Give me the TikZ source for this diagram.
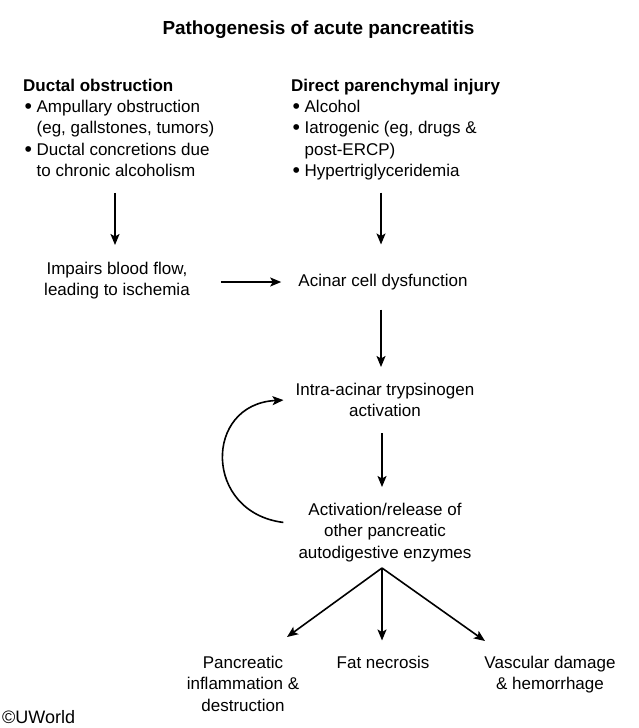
\documentclass[tikz,border=0pt]{standalone}
\usepackage{fontspec}
\setmainfont{Liberation Sans}
\usetikzlibrary{arrows.meta}
\newcommand{\bulglyph}{\raisebox{-1pt}{\scalebox{1.25}{\textbullet}}}
\newcommand{\bul}{\bulglyph\hspace{4.5pt}}
\newcommand{\ind}{\hphantom{\bulglyph\hspace{4.5pt}}}
\begin{document}
\begin{tikzpicture}[x=1pt,y=-1pt,
  txt/.style={inner sep=0pt, font=\fontsize{17}{21.3}\selectfont, align=center},
  lst/.style={txt, align=left},
  head/.style={inner sep=0pt, font=\fontsize{17}{21.3}\selectfont\bfseries},
  arr/.style={line width=1.6pt, -{Stealth[length=11pt,width=9pt,inset=2.5pt]}}
]
\path[use as bounding box] (0,0) rectangle (639,728);
\node[inner sep=0pt, font=\fontsize{18.9}{22}\selectfont\bfseries] (title) at (318.5,30) {Pathogenesis of acute pancreatitis};

\node[head, anchor=base west] (dhead) at (23,91) {Ductal obstruction};
\node[lst, anchor=north west] (dlist) at (24.5,100) {\bul Ampullary obstruction\\\ind(eg, gallstones, tumors)\\\bul Ductal concretions due\\\ind to chronic alcoholism};

\node[head, anchor=base west] (rhead) at (291,91) {Direct parenchymal injury};
\node[lst, anchor=north west] (rlist) at (292.5,100) {\bul Alcohol\\\bul Iatrogenic (eg, drugs \&\\\ind post-ERCP)\\\bul Hypertriglyceridemia};

\node[txt, anchor=north] (imp) at (117,262) {Impairs blood flow,\\leading to ischemia};
\node[txt, anchor=base] (acin) at (383,286) {Acinar cell dysfunction};
\node[txt, anchor=north] (intra) at (385,383) {Intra-acinar trypsinogen\\activation};
\node[txt, anchor=north] (activ) at (385,503) {Activation/release of\\other pancreatic\\autodigestive enzymes};
\node[txt, anchor=north] (panc) at (243,656) {Pancreatic\\inflammation \&\\destruction};
\node[txt, anchor=base] (fat) at (383,668) {Fat necrosis};
\node[txt, anchor=north] (vasc) at (550,656) {Vascular damage\\\& hemorrhage};
\node[txt, anchor=base west, font=\fontsize{18}{20}\selectfont] (copy) at (2,723) {©UWorld};

\coordinate (xl) at (115,0);
\coordinate (xr) at (381,0);
\coordinate (xr2) at (382,0);
\coordinate (yh) at (0,282);
\coordinate (fo) at (382,568);
\coordinate (tl) at (287,637);
\coordinate (tr) at (485,641);

\draw[arr, shorten <=16pt, shorten >=17pt] (xl |- dlist.south) -- (xl |- imp.north);
\draw[arr, shorten <=12.5pt, shorten >=29pt] (xr |- rlist.south) -- (xr |- acin.north);
\draw[arr, shorten <=31pt, shorten >=17pt] (imp.east |- yh) -- (acin.west |- yh);
\draw[arr, shorten <=20pt, shorten >=16pt] (xr |- acin.south) -- (xr |- intra.north);
\draw[arr, shorten <=16pt, shorten >=16pt] (xr2 |- intra.south) -- (xr2 |- activ.north);
\draw[arr] ([xshift=-15pt,yshift=10pt]activ.west) .. controls +(-80,-10) and +(-80,4) .. ([xshift=-12pt]intra.west);
\draw[arr] (fo) -- (tl);
\draw[arr, shorten >=15pt] (fo) -- (fo |- fat.north);
\draw[arr] (fo) -- (tr);
\end{tikzpicture}
\end{document}
